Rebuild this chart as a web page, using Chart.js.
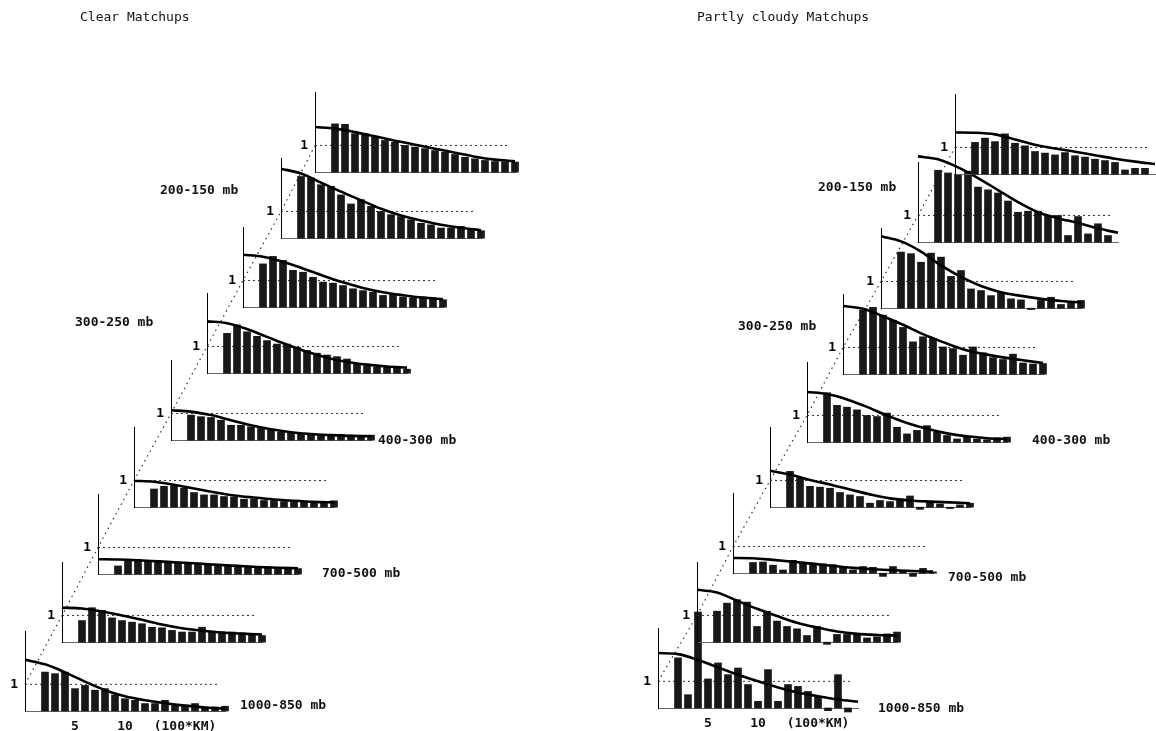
<!DOCTYPE html>
<html>
<head>
<meta charset="utf-8">
<script src="https://cdn.jsdelivr.net/npm/chart.js@4/dist/chart.umd.min.js"></script>
<style>
  body { margin:0; background:#fff; width:1156px; height:731px; overflow:hidden; position:relative; }
  .lbl { position:absolute; font:bold 13px "DejaVu Sans Mono", monospace; color:#111; white-space:pre; line-height:16px; }
  .ttl { position:absolute; font:13px "DejaVu Sans Mono", monospace; color:#111; white-space:pre; line-height:16px; }
  .sub { position:absolute; }
  #diag { position:absolute; left:0; top:0; }
</style>
</head>
<body>
<canvas id="diag" width="1156" height="731"></canvas>
<script>
// distance bins (100 km) for the bars and the fitted curve
var binX = [2,3,4,5,6,7,8,9,10,11,12,13,14,15,16,17,18,19,20];
var curveX = [0,2,4,6,8,10,12,14,16,18,20];
var xTicks = [5, 10, 16];
var kmTick = 16;
var kmLabel = '(100*KM)';

// bars, one row per layer, bottom (1000-850 mb) to top
var clearBars = [
  [1.46,1.4,1.46,0.84,0.96,0.78,0.84,0.6,0.46,0.4,0.28,0.28,0.4,0.22,0.22,0.28,0.15,0.15,0.18],
  [0.81,1.29,1.19,0.91,0.81,0.75,0.69,0.56,0.54,0.44,0.38,0.38,0.56,0.38,0.38,0.38,0.34,0.29,0.25],
  [0.31,0.56,0.54,0.5,0.5,0.46,0.44,0.42,0.41,0.38,0.36,0.31,0.31,0.3,0.28,0.27,0.25,0.23,0.21],
  [0.68,0.78,0.8,0.71,0.55,0.46,0.46,0.4,0.38,0.3,0.3,0.25,0.25,0.21,0.21,0.2,0.18,0.16,0.24],
  [0.94,0.88,0.85,0.75,0.56,0.56,0.5,0.44,0.38,0.31,0.28,0.25,0.25,0.22,0.22,0.22,0.19,0.15,0.19],
  [1.49,1.81,1.55,1.38,1.22,1.09,1.09,0.97,0.85,0.75,0.68,0.62,0.53,0.33,0.28,0.22,0.22,0.2,0.15],
  [1.62,1.9,1.75,1.38,1.31,1.12,0.94,0.9,0.81,0.69,0.62,0.56,0.44,0.5,0.38,0.35,0.38,0.35,0.28],
  [2.31,2.25,2.0,1.94,1.62,1.28,1.44,1.19,1.0,0.88,0.81,0.69,0.56,0.5,0.38,0.38,0.44,0.31,0.28],
  [1.81,1.79,1.44,1.44,1.31,1.19,1.12,1.0,0.94,0.88,0.81,0.75,0.66,0.56,0.5,0.44,0.4,0.38,0.38]
];
var clearCurves = [
  [1.92,1.75,1.45,1.1,0.78,0.55,0.4,0.29,0.2,0.13,0.09],
  [1.29,1.26,1.15,1.0,0.84,0.66,0.52,0.43,0.36,0.32,0.29],
  [0.56,0.55,0.52,0.48,0.44,0.4,0.35,0.31,0.27,0.24,0.22],
  [0.99,0.95,0.84,0.7,0.56,0.44,0.36,0.29,0.24,0.2,0.18],
  [1.12,1.07,0.94,0.75,0.56,0.41,0.3,0.23,0.19,0.16,0.15],
  [1.94,1.87,1.65,1.36,1.07,0.8,0.58,0.42,0.32,0.25,0.21],
  [1.96,1.89,1.7,1.45,1.18,0.93,0.72,0.56,0.45,0.36,0.3],
  [2.6,2.42,2.08,1.74,1.42,1.1,0.85,0.66,0.5,0.39,0.3],
  [1.69,1.63,1.5,1.34,1.18,1.03,0.88,0.73,0.58,0.47,0.41]
];
var cloudyBars = [
  [1.88,0.5,3.6,1.09,1.69,1.25,1.5,0.88,0.25,1.44,0.25,0.88,0.81,0.62,0.44,-0.1,1.25,-0.15,null],
  [1.16,1.46,1.59,1.5,0.59,1.16,0.79,0.59,0.5,0.25,0.59,-0.08,0.29,0.29,0.29,0.16,0.2,0.31,0.38],
  [0.4,0.42,0.3,0.12,0.48,0.4,0.38,0.35,0.32,0.25,0.12,0.25,0.22,-0.12,0.25,0.1,-0.12,0.18,0.05],
  [1.34,1.09,0.78,0.75,0.71,0.55,0.46,0.4,0.15,0.25,0.21,0.3,0.42,-0.08,0.21,0.12,-0.05,0.09,0.15],
  [1.85,1.38,1.31,1.21,1.0,0.96,1.09,0.56,0.31,0.44,0.62,0.38,0.25,0.12,0.19,0.12,0.09,0.16,0.19],
  [2.4,2.5,2.21,2.02,1.75,1.21,1.4,1.34,1.02,0.96,0.71,1.02,0.8,0.62,0.55,0.75,0.42,0.38,0.4],
  [2.1,2.04,1.72,2.06,1.91,1.19,1.41,0.72,0.66,0.47,0.6,0.35,0.31,-0.05,0.29,0.41,0.14,0.22,0.29],
  [2.69,2.59,2.54,2.66,2.06,1.96,1.84,1.54,1.12,1.16,1.16,1.0,1.0,0.25,0.96,0.31,0.69,0.25,null],
  [1.19,1.35,1.22,1.51,1.16,1.06,0.85,0.79,0.72,0.81,0.69,0.64,0.56,0.51,0.44,0.16,0.22,0.22,null]
];
var cloudyCurves = [
  [2.06,2.02,1.8,1.52,1.25,1.0,0.77,0.58,0.44,0.32,0.24],
  [1.96,1.86,1.55,1.25,0.98,0.73,0.55,0.4,0.31,0.27,0.25],
  [0.57,0.56,0.5,0.43,0.35,0.27,0.2,0.15,0.11,0.08,0.06],
  [1.36,1.22,1.02,0.85,0.66,0.48,0.33,0.25,0.21,0.18,0.15],
  [1.88,1.8,1.6,1.32,1.0,0.72,0.5,0.33,0.22,0.15,0.12],
  [2.55,2.45,2.17,1.85,1.5,1.2,0.93,0.76,0.63,0.52,0.42],
  [2.69,2.5,2.12,1.6,1.17,0.83,0.6,0.46,0.35,0.27,0.21],
  [3.21,3.1,2.8,2.4,1.95,1.5,1.12,0.9,0.72,0.52,0.35],
  [1.56,1.55,1.49,1.3,1.1,0.96,0.84,0.71,0.58,0.47,0.38]
];
var refLevel = 1;
var refEnd = 19.5;

// page layout: where each small plot's origin sits
var clearAxisX = [25, 62, 98, 134, 171, 207, 243, 281, 315];
var clearBaseY = [711, 642, 574, 507, 440, 373, 307, 238, 172];
var cloudyAxisX = [658, 697, 733, 770, 807, 843, 881, 918, 955];
var cloudyBaseY = [708, 642, 573, 507, 442, 374, 308, 242, 174];

var texts = [
  ['ttl', 'Clear Matchups', 80, 9],
  ['ttl', 'Partly cloudy Matchups', 697, 9],
  ['lbl', '200-150 mb', 160, 182],
  ['lbl', '300-250 mb', 75, 314],
  ['lbl', '400-300 mb', 378, 432],
  ['lbl', '700-500 mb', 322, 565],
  ['lbl', '1000-850 mb', 240, 697],
  ['lbl', '200-150 mb', 818, 179],
  ['lbl', '300-250 mb', 738, 318],
  ['lbl', '400-300 mb', 1032, 432],
  ['lbl', '700-500 mb', 948, 569],
  ['lbl', '1000-850 mb', 878, 700]
];
texts.forEach(function (t) {
  var d = document.createElement('div');
  d.className = t[0];
  d.textContent = t[1];
  d.style.left = t[2] + 'px';
  d.style.top = t[3] + 'px';
  document.body.appendChild(d);
});

var MONO = '"DejaVu Sans Mono", monospace';
var YW = 20, TOP = 34, RIGHT = 16, BOT = 4, PW = 200, PH = 80;

function plotConfig(bars, curve, bottom, XH) {
  return {
    type: 'bar',
    data: {
      datasets: [
        {
          type: 'line',
          data: curveX.map(function (x, i) { return {x: x, y: curve[i]}; }),
          borderColor: '#000', borderWidth: 2.6, pointRadius: 0,
          cubicInterpolationMode: 'monotone', clip: false, order: 0
        },
        {
          type: 'bar',
          data: binX.map(function (x, i) { return {x: x, y: bars[i]}; }),
          backgroundColor: '#181818', barThickness: 7, clip: false, order: 1
        },
        {
          type: 'line',
          data: [{x: 0, y: refLevel}, {x: refEnd, y: refLevel}],
          borderColor: '#333', borderWidth: 1, borderDash: [2, 3],
          pointRadius: 0, clip: false, order: 2
        }
      ]
    },
    options: {
      responsive: false,
      animation: false,
      events: [],
      layout: { padding: { top: TOP, right: RIGHT, bottom: BOT, left: 0 } },
      plugins: { legend: { display: false }, tooltip: { enabled: false } },
      scales: {
        x: {
          type: 'linear', min: 0, max: 20, offset: false,
          grid: { display: false, drawTicks: false },
          border: { display: true, color: '#666', width: 1, dash: [1, 2] },
          ticks: {
            display: bottom, autoSkip: false, maxRotation: 0, padding: 8,
            color: '#111', font: { family: MONO, size: 13, weight: 'bold' },
            callback: function (v) { return v === kmTick ? kmLabel : String(v); }
          },
          afterBuildTicks: function (s) { s.ticks = bottom ? xTicks.map(function (v) { return {value: v}; }) : []; },
          afterFit: function (s) { s.height = XH; }
        },
        y: {
          min: 0, max: 3,
          grid: { display: false, drawTicks: false },
          border: { display: true, color: '#000', width: 1 },
          ticks: {
            padding: 7, color: '#000',
            font: { family: MONO, size: 13, weight: 'bold' },
            callback: function () { return '1'; }
          },
          afterBuildTicks: function (s) { s.ticks = [{value: refLevel}]; },
          afterFit: function (s) { s.width = YW; }
        }
      }
    }
  };
}

function makePlot(axisX, baseY, bars, curve, bottom) {
  var XH = bottom ? 26 : 0;
  var w = YW + PW + RIGHT, h = TOP + PH + XH + BOT;
  var extra = 0, cv, chart;
  for (var pass = 0; pass < 3; pass++) {
    cv = document.createElement('canvas');
    cv.className = 'sub';
    cv.width = w; cv.height = h + extra;
    document.body.appendChild(cv);
    chart = new Chart(cv.getContext('2d'), plotConfig(bars, curve, bottom, XH));
    var ca = chart.chartArea;
    var diff = PH - (ca.bottom - ca.top);
    if (Math.abs(diff) > 0.5 && pass < 2) {
      chart.destroy();
      cv.remove();
      extra += diff;
      continue;
    }
    break;
  }
  // place the canvas so that the plot origin lands on the layout point
  var left = Math.round(axisX - chart.scales.x.getPixelForValue(0));
  var top = Math.round(baseY - chart.scales.y.getPixelForValue(0));
  cv.style.left = left + 'px';
  cv.style.top = top + 'px';
  return { chart: chart, left: left, top: top };
}

function buildPanel(axisXs, baseYs, barsRows, curveRows) {
  var plots = [];
  for (var i = 0; i < axisXs.length; i++) {
    plots.push(makePlot(axisXs[i], baseYs[i], barsRows[i], curveRows[i], i === 0));
  }
  return plots;
}

var clearPlots = buildPanel(clearAxisX, clearBaseY, clearBars, clearCurves);
var cloudyPlots = buildPanel(cloudyAxisX, cloudyBaseY, cloudyBars, cloudyCurves);

// dotted diagonal joining the "1" level of every layer
var dctx = document.getElementById('diag').getContext('2d');
function drawDiagonal(plots) {
  dctx.beginPath();
  plots.forEach(function (p, k) {
    var px = p.left + p.chart.scales.x.getPixelForValue(0);
    var py = p.top + p.chart.scales.y.getPixelForValue(refLevel);
    if (k === 0) dctx.moveTo(px, py); else dctx.lineTo(px, py);
  });
  dctx.strokeStyle = '#333';
  dctx.lineWidth = 1.2;
  dctx.setLineDash([1.5, 4]);
  dctx.stroke();
}
drawDiagonal(clearPlots);
drawDiagonal(cloudyPlots);
</script>
</body>
</html>
